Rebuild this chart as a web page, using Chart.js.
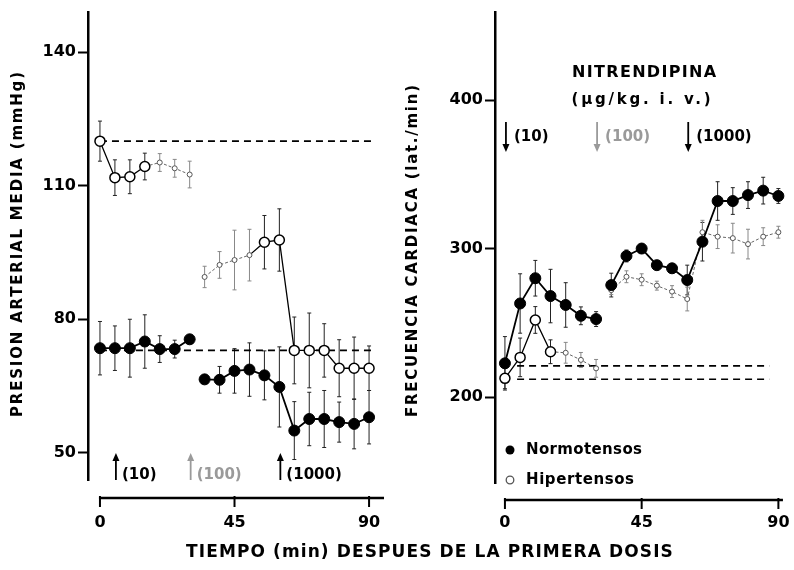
<!DOCTYPE html>
<html><head><meta charset="utf-8">
<script src="https://cdn.jsdelivr.net/npm/chart.js@4.4.1/dist/chart.umd.min.js"></script>
<style>
html,body{margin:0;padding:0;background:#fff;width:794px;height:570px;overflow:hidden}
#wl{position:absolute;left:0;top:0;width:400px;height:570px}
#wr{position:absolute;left:400px;top:0;width:394px;height:570px}
#xt{position:absolute;left:130px;width:600px;top:541px;text-align:center;font:bold 17px "DejaVu Sans";letter-spacing:1.1px;color:#000;white-space:nowrap}
</style></head><body>
<div id="wl"><canvas id="cl" width="400" height="570"></canvas></div>
<div id="wr"><canvas id="cr" width="394" height="570"></canvas></div>
<div id="xt">TIEMPO (min) DESPUES DE LA PRIMERA DOSIS</div>
<script>
// ---------- data ----------
const times1 = [0, 5, 10, 15, 20, 25, 30];
const times2 = [35, 40, 45, 50, 55, 60, 65, 70, 75, 80, 85, 90];
const xTickValues = [0, 45, 90];
const pamYTicks = [50, 80, 110, 140];
const fcYTicks = [200, 300, 400];

// Presion arterial media (mmHg)
const pamNormo1 = [73.5, 73.5, 73.5, 75, 73.3, 73.3, 75.5];
const pamNormo1Err = [6, 5, 6.5, 6, 3, 2, 1];
const pamNormo2 = [66.5, 66.4, 68.4, 68.7, 67.4, 64.8, 55, 57.6, 57.6, 56.9, 56.5, 58];
const pamNormo2Err = [1, 3, 5, 6, 5.5, 9, 6.5, 6, 6.4, 4.5, 5.6, 6];
const pamHiper1 = [120, 111.8, 112, 114.3, 115.2, 113.9, 112.5];
const pamHiper1Err = [4.5, 4, 3.8, 3, 2, 2, 3];
const pamHiper2 = [89.5, 92.2, 93.3, 94.4, 97.3, 97.8, 73, 73, 73, 69, 69, 69];
const pamHiper2Err = [2.4, 3, 6.7, 5.8, 6, 7, 7.5, 8.4, 6, 6.4, 7, 5];
const pamBaseNormo = 73;
const pamBaseHiper = 120;
const pamBaseSpan = [0, 91];

// Frecuencia cardiaca (lat./min)
const fcNormo1 = [222.7, 263, 280, 268, 262, 254.7, 252.5];
const fcNormo1Err = [18, 20, 12, 18, 15, 6, 5];
const fcNormo2 = [275.4, 295, 300, 288.8, 286.7, 278.8, 304.6, 332, 332, 336, 339, 335.4];
const fcNormo2Err = [8, 4, 3, 3, 3, 10, 13, 13, 9, 9, 9, 5];
const fcHiper1 = [212.6, 226.7, 251.9, 230.5, 229.8, 225, 219.3];
const fcHiper1Err = [7, 13, 9, 8, 7, 5, 6];
const fcHiper2 = [272, 281, 279, 275, 271, 266, 311, 308, 307, 303, 308, 311];
const fcHiper2Err = [3, 4, 4, 3, 4, 8, 8, 8, 10, 10, 6, 4];
const fcBaseNormo = 221;
const fcBaseHiper = 212;
const fcBaseSpan = [4, 87];

const doseLabels = ['(10)', '(100)', '(1000)'];
const doseTimesPam = [5, 30, 60];
const doseTimesFc = [0, 30, 60];
const seriesNames = ['Normotensos', 'Hipertensos'];

// ---------- helpers ----------
const FONT = '"DejaVu Sans", sans-serif';
const pts = (xs, ys) => xs.map((t, i) => ({ x: t, y: ys[i] }));

function normoDs(xs, ys, err) {
  return { data: pts(xs, ys), errors: err, borderColor: '#000', borderWidth: 1.8,
    pointRadius: 5.5, pointBackgroundColor: '#000', pointBorderColor: '#000', pointBorderWidth: 1, order: 1 };
}
function hiperDs(xs, ys, err, faint) {
  const fs = new Set(faint || []);
  return { data: pts(xs, ys), errors: err, faint: fs, borderColor: '#000', borderWidth: 1.3,
    pointRadius: c => fs.has(c.dataIndex) ? 2.5 : 5,
    pointBackgroundColor: '#fff',
    pointBorderColor: c => fs.has(c.dataIndex) ? '#555' : '#000',
    pointBorderWidth: c => fs.has(c.dataIndex) ? 1 : 1.5,
    segment: {
      borderDash: c => fs.has(c.p1DataIndex) ? [3, 2] : undefined,
      borderColor: c => fs.has(c.p1DataIndex) ? '#666' : undefined,
      borderWidth: c => fs.has(c.p1DataIndex) ? 1 : undefined
    }, order: 2 };
}
function baseDs(span, v) {
  return { data: span.map(t => ({ x: t, y: v })), borderColor: '#000', borderWidth: 1.6,
    borderDash: [7, 5], pointRadius: 0, order: 3 };
}

function spacedText(ctx, text, cx, cy, targetW, font, color, align) {
  ctx.save();
  ctx.font = font; ctx.fillStyle = color || '#000';
  ctx.letterSpacing = '0px';
  const w0 = ctx.measureText(text).width;
  const n = text.length;
  const sp = targetW ? Math.max(0, (targetW - w0) / Math.max(1, n - 1)) : 0;
  ctx.letterSpacing = sp + 'px';
  ctx.textAlign = 'left'; ctx.textBaseline = 'middle';
  const w = w0 + sp * (n - 1);
  const sx = align === 'left' ? cx : cx - w / 2;
  ctx.fillText(text, sx, cy);
  ctx.restore();
}

function arrow(ctx, x, yFrom, yTo, color) {
  const dir = yTo > yFrom ? 1 : -1;
  ctx.save();
  ctx.strokeStyle = color; ctx.fillStyle = color; ctx.lineWidth = 1.8;
  ctx.beginPath(); ctx.moveTo(x, yFrom); ctx.lineTo(x, yTo - dir * 5); ctx.stroke();
  ctx.beginPath(); ctx.moveTo(x, yTo); ctx.lineTo(x - 3.5, yTo - dir * 8); ctx.lineTo(x + 3.5, yTo - dir * 8); ctx.closePath(); ctx.fill();
  ctx.restore();
}

const errorBars = {
  id: 'errorBars',
  beforeDatasetsDraw(chart) {
    const { ctx, scales: { x, y } } = chart;
    chart.data.datasets.forEach(ds => {
      if (!ds.errors) return;
      ds.data.forEach((p, j) => {
        const e = ds.errors[j]; if (!e) return;
        const faint = ds.faint && ds.faint.has(j);
        const px = x.getPixelForValue(p.x);
        const t = y.getPixelForValue(p.y + e), b = y.getPixelForValue(p.y - e);
        ctx.save();
        ctx.strokeStyle = faint ? '#888' : '#222'; ctx.lineWidth = 1;
        ctx.beginPath();
        ctx.moveTo(px, t); ctx.lineTo(px, b);
        ctx.moveTo(px - 2, t); ctx.lineTo(px + 2, t);
        ctx.moveTo(px - 2, b); ctx.lineTo(px + 2, b);
        ctx.stroke();
        ctx.restore();
      });
    });
  }
};

const decor = {
  id: 'decor',
  afterDraw(chart, args, o) {
    const { ctx, chartArea: ca, scales: { x } } = chart;
    // detached x axis
    const ay = ca.bottom + o.axisGap;
    ctx.save();
    ctx.strokeStyle = '#000'; ctx.lineWidth = 2.5;
    ctx.beginPath(); ctx.moveTo(x.getPixelForValue(o.axisFrom) - 1, ay); ctx.lineTo(x.getPixelForValue(o.axisTo), ay); ctx.stroke();
    ctx.lineWidth = 2;
    xTickValues.forEach(v => {
      const px = x.getPixelForValue(v);
      ctx.beginPath(); ctx.moveTo(px, ay - 2); ctx.lineTo(px, ay + 9); ctx.stroke();
    });
    ctx.restore();
    // y title
    ctx.save();
    ctx.translate(o.titleX, (ca.top + ca.bottom) / 2 + o.titleDy);
    ctx.rotate(-Math.PI / 2);
    spacedText(ctx, o.title, 0, 0, o.titleW, 'bold 15px ' + FONT);
    ctx.restore();
    // dose arrows
    o.doseTimes.forEach((t, i) => {
      const px = x.getPixelForValue(t) + 1;
      const col = i === 1 ? '#9a9a9a' : '#000';
      if (o.up) {
        arrow(ctx, px, ca.bottom, ca.bottom - 27, col);
        spacedText(ctx, doseLabels[i], px + 6, ca.bottom - 5, 0, 'bold 15px ' + FONT, col, 'left');
      } else {
        arrow(ctx, px, ca.top + 110, ca.top + 140, col);
        spacedText(ctx, doseLabels[i], px + 8, ca.top + 125, 0, 'bold 15px ' + FONT, col, 'left');
      }
    });
    if (o.header) {
      spacedText(ctx, 'NITRENDIPINA', x.getPixelForValue(45.8), ca.top + 61, 144, 'bold 16px ' + FONT);
      spacedText(ctx, '(\u00b5g/kg. i. v.)', x.getPixelForValue(44.8), ca.top + 88, 139, 'bold 15px ' + FONT);
    }
    if (o.legend) {
      const lx = ca.left + 15;
      const y1 = ca.bottom - 33, y2 = ca.bottom - 3;
      ctx.save();
      ctx.fillStyle = '#000';
      ctx.beginPath(); ctx.arc(lx, y1, 4.5, 0, Math.PI * 2); ctx.fill();
      ctx.strokeStyle = '#555'; ctx.lineWidth = 1.3;
      ctx.beginPath(); ctx.arc(lx, y2, 3.8, 0, Math.PI * 2); ctx.stroke();
      ctx.restore();
      spacedText(ctx, seriesNames[0], lx + 16, y1, 116, 'bold 15px ' + FONT, '#000', 'left');
      spacedText(ctx, seriesNames[1], lx + 16, y2, 108, 'bold 15px ' + FONT, '#000', 'left');
    }
  }
};

function makeChart(id, datasets, cfg) {
  return new Chart(document.getElementById(id), {
    type: 'line',
    data: { datasets },
    options: {
      responsive: false, animation: false, devicePixelRatio: 1,
      layout: { padding: { top: 12, right: cfg.padRight, left: 0, bottom: 0 } },
      plugins: { legend: { display: false }, tooltip: { enabled: false }, decor: cfg.decor },
      scales: {
        x: {
          type: 'linear', min: cfg.xMin, max: cfg.xMax,
          afterBuildTicks: s => { s.ticks = xTickValues.map(v => ({ value: v })); },
          afterFit: s => { s.height = cfg.xHeight; s.paddingLeft = 0; s.paddingRight = 0; },
          grid: { display: false, drawTicks: false }, border: { display: false },
          ticks: { padding: cfg.xPad, color: '#000', font: { family: FONT, size: 16, weight: 'bold' }, maxRotation: 0, autoSkip: false, callback: v => String(v) }
        },
        y: {
          type: 'linear', min: cfg.yMin, max: cfg.yMax,
          afterBuildTicks: s => { s.ticks = cfg.yTicks.map(v => ({ value: v })); },
          afterFit: s => { s.width = cfg.yWidth; s.paddingTop = 0; s.paddingBottom = 0; },
          grid: { drawOnChartArea: false, tickLength: 10, tickWidth: 2, color: '#000' },
          border: { display: true, width: 2.5, color: '#000' },
          ticks: { padding: 2, color: '#000', font: { family: FONT, size: 16, weight: 'bold' }, callback: v => String(v) }
        }
      }
    },
    plugins: [errorBars, decor]
  });
}

makeChart('cl', [
  normoDs(times1, pamNormo1, pamNormo1Err),
  normoDs(times2, pamNormo2, pamNormo2Err),
  hiperDs(times1, pamHiper1, pamHiper1Err, [4, 5, 6]),
  hiperDs(times2, pamHiper2, pamHiper2Err, [0, 1, 2, 3]),
  baseDs(pamBaseSpan, pamBaseNormo),
  baseDs(pamBaseSpan, pamBaseHiper)
], {
  padRight: 13, xMin: -4, xMax: 96, xHeight: 90, xPad: 33,
  yMin: 43.9, yMax: 149, yTicks: pamYTicks, yWidth: 88,
  decor: { axisGap: 18, axisFrom: 0, axisTo: 95, titleX: 18, titleDy: -1.5, titleW: 345,
    title: 'PRESION ARTERIAL MEDIA (mmHg)', doseTimes: doseTimesPam, up: true }
});

makeChart('cr', [
  normoDs(times1, fcNormo1, fcNormo1Err),
  normoDs(times2, fcNormo2, fcNormo2Err),
  hiperDs(times1, fcHiper1, fcHiper1Err, [4, 5, 6]),
  hiperDs(times2, fcHiper2, fcHiper2Err, [0, 1, 2, 3, 4, 5, 6, 7, 8, 9, 10, 11]),
  baseDs(fcBaseSpan, fcBaseNormo),
  baseDs(fcBaseSpan, fcBaseHiper)
], {
  padRight: 5, xMin: -3.27, xMax: 93, xHeight: 87, xPad: 30,
  yMin: 142.1, yMax: 459.3, yTicks: fcYTicks, yWidth: 95,
  decor: { axisGap: 17, axisFrom: 0, axisTo: 91.5, titleX: 13, titleDy: 3.5, titleW: 332,
    title: 'FRECUENCIA CARDIACA (lat./min)', doseTimes: doseTimesFc, up: false,
    header: true, legend: true }
});
</script></body></html>
